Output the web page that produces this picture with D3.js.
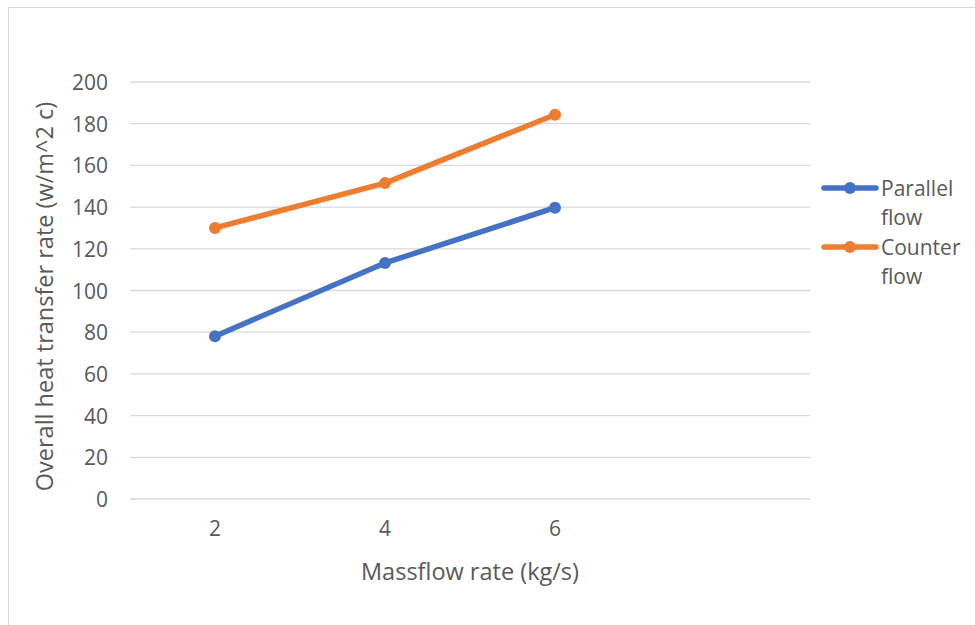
<!DOCTYPE html>
<html>
<head>
<meta charset="utf-8">
<script src="https://cdn.jsdelivr.net/npm/d3@7"></script>
<style>
  body { margin: 0; background: #fff; }
  text { font-family: "Open Sans", sans-serif; fill: #595959; }
</style>
</head>
<body>
<div id="chart"></div>
<script>
// data
const categories = ["2", "4", "6", ""];
const parallelFlow = [78.1, 113.2, 139.7];
const counterFlow = [130.0, 151.5, 184.3];
const yTicks = [0, 20, 40, 60, 80, 100, 120, 140, 160, 180, 200];
const seriesNames = [["Parallel", "flow"], ["Counter", "flow"]];
const seriesColors = ["#4472C4", "#ED7D31"];

const W = 975, H = 625;
const margin = { top: 82, right: 165, bottom: 126, left: 130 };
const width = W - margin.left - margin.right;
const height = H - margin.top - margin.bottom;

const root = d3.select("#chart").append("svg")
  .attr("width", W)
  .attr("height", H);

// chart area border
root.append("rect")
  .attr("x", 8.5).attr("y", 7.5)
  .attr("width", 1000).attr("height", 700)
  .attr("fill", "none")
  .attr("stroke", "#d9d9d9")
  .attr("stroke-width", 1);

const svg = root.append("g")
  .attr("transform", `translate(${margin.left}, ${margin.top})`);

const x = d3.scaleBand()
  .domain(categories.map((c, i) => i))
  .range([0, width]);

const y = d3.scaleLinear()
  .domain([0, 200])
  .range([height, 0]);

// gridlines
svg.append("g")
  .selectAll("line")
  .data(yTicks)
  .enter()
  .append("line")
  .attr("x1", 0).attr("x2", width)
  .attr("y1", d => y(d)).attr("y2", d => y(d))
  .attr("stroke", "#d9d9d9")
  .attr("stroke-width", 1.3);

// y axis labels
const yAxis = svg.append("g")
  .call(d3.axisLeft(y).tickValues(yTicks).tickSize(0).tickPadding(22));
yAxis.select(".domain").remove();
yAxis.selectAll("text")
  .style("font-size", "21px")
  .style("font-family", "Open Sans, sans-serif")
  .attr("fill", "#595959")
  .attr("dy", "0.36em");

// x axis labels
const xAxis = svg.append("g")
  .attr("transform", `translate(0, ${height})`)
  .call(d3.axisBottom(x).tickFormat(i => categories[i]).tickSize(0).tickPadding(22));
xAxis.select(".domain").remove();
xAxis.selectAll("text")
  .style("font-size", "21px")
  .style("font-family", "Open Sans, sans-serif")
  .attr("fill", "#595959");

// axis titles
svg.append("text")
  .attr("x", width / 2)
  .attr("y", height + 81)
  .attr("text-anchor", "middle")
  .style("font-size", "23.5px")
  .text("Massflow rate (kg/s)");

svg.append("text")
  .attr("transform", `translate(${-77}, ${height / 2 + 6}) rotate(-90)`)
  .attr("text-anchor", "middle")
  .style("font-size", "23.5px")
  .text("Overall heat transfer rate (w/m^2 c)");

// lines
const line = d3.line()
  .x((d, i) => x(i) + x.bandwidth() / 2)
  .y(d => y(d));

[parallelFlow, counterFlow].forEach((vals, s) => {
  svg.append("path")
    .datum(vals)
    .attr("fill", "none")
    .attr("stroke", seriesColors[s])
    .attr("stroke-width", 5.5)
    .attr("stroke-linejoin", "round")
    .attr("stroke-linecap", "round")
    .attr("d", line);

  svg.selectAll(".pt" + s)
    .data(vals)
    .enter()
    .append("circle")
    .attr("class", "pt" + s)
    .attr("cx", (d, i) => x(i) + x.bandwidth() / 2)
    .attr("cy", d => y(d))
    .attr("r", 6)
    .attr("fill", seriesColors[s]);
});

// legend
const legend = root.append("g")
  .attr("transform", "translate(822, 188)");

seriesNames.forEach((name, s) => {
  const g = legend.append("g").attr("transform", `translate(0, ${s * 59})`);
  g.append("line")
    .attr("x1", 2).attr("x2", 54)
    .attr("y1", 0).attr("y2", 0)
    .attr("stroke", seriesColors[s])
    .attr("stroke-width", 5.5)
    .attr("stroke-linecap", "round");
  g.append("circle")
    .attr("cx", 28).attr("cy", 0).attr("r", 6)
    .attr("fill", seriesColors[s]);
  g.append("text")
    .attr("x", 59)
    .attr("y", 8)
    .style("font-size", "21px")
    .text(name[0]);
  g.append("text")
    .attr("x", 59)
    .attr("y", 37)
    .style("font-size", "21px")
    .text(name[1]);
});
</script>
</body>
</html>
